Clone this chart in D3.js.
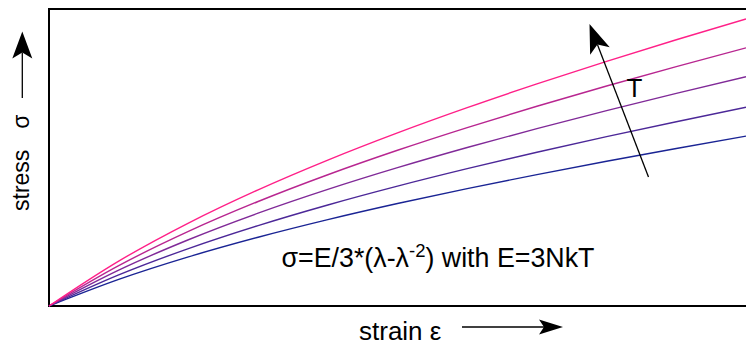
<!DOCTYPE html>
<html>
<head>
<meta charset="utf-8">
<script src="https://cdn.jsdelivr.net/npm/d3@7"></script>
<style>
  html, body { margin: 0; padding: 0; background: #fff; }
  svg { display: block; font-family: "Liberation Sans", Arial, Helvetica, sans-serif; }
</style>
</head>
<body>
<svg id="chart" width="746" height="344"></svg>
<script>
// Strain values (engineering strain ε, λ = 1 + ε)
const strain = [0, 0.1, 0.2, 0.3, 0.4, 0.5, 0.6, 0.7, 0.8, 0.9, 1.0];

// Stress curves for increasing temperature T (lowest to highest)
const stressT1 = [0, 0.2736, 0.5056, 0.7083, 0.8898, 1.0556, 1.2094, 1.3540, 1.4914, 1.6230, 1.7500];
const stressT2 = [0, 0.3201, 0.5916, 0.8287, 1.0411, 1.2351, 1.4150, 1.5842, 1.7449, 1.8989, 2.0475];
const stressT3 = [0, 0.3694, 0.6826, 0.9562, 1.2012, 1.4251, 1.6327, 1.8279, 2.0134, 2.1911, 2.3625];
const stressT4 = [0, 0.4159, 0.7685, 1.0766, 1.3525, 1.6045, 1.8383, 2.0581, 2.2669, 2.4670, 2.6600];
const stressT5 = [0, 0.4624, 0.8545, 1.1970, 1.5038, 1.7840, 2.0439, 2.2883, 2.5205, 2.7429, 2.9575];

const seriesList = [stressT1, stressT2, stressT3, stressT4, stressT5];
const seriesColors = ["#1a2494", "#4c2898", "#802a98", "#b82690", "#ff2088"];

const svg = d3.select("#chart");

const x = d3.scaleLinear().domain([0, 1]).range([49, 746]);
const y = d3.scaleLinear().domain([0, 3.06]).range([306, 9]);

// plot frame (open to the right, extends past the window)
svg.append("rect")
  .attr("x", x(0)).attr("y", y(3.06))
  .attr("width", 760).attr("height", y(0) - y(3.06))
  .attr("fill", "none").attr("stroke", "#000").attr("stroke-width", 2);

// stress–strain curves
const line = d3.line()
  .x((d, i) => x(strain[i]))
  .y(d => y(d))
  .curve(d3.curveMonotoneX);

svg.append("g").selectAll("path")
  .data(seriesList)
  .join("path")
  .attr("d", line)
  .attr("fill", "none")
  .attr("stroke", (d, i) => seriesColors[i])
  .attr("stroke-width", 1.4);

// stealth-style arrow from (x1,y1) to tip (x2,y2)
function arrow(x1, y1, x2, y2, len, half, notch) {
  const dx = x2 - x1, dy = y2 - y1;
  const L = Math.hypot(dx, dy);
  const ux = dx / L, uy = dy / L;
  const px = -uy, py = ux;
  const bx = x2 - ux * len, by = y2 - uy * len;
  const nx = x2 - ux * (len - notch), ny = y2 - uy * (len - notch);
  svg.append("line")
    .attr("x1", x1).attr("y1", y1).attr("x2", nx).attr("y2", ny)
    .attr("stroke", "#000").attr("stroke-width", 1.3);
  svg.append("path")
    .attr("d", `M${x2},${y2}L${bx + px * half},${by + py * half}L${nx},${ny}L${bx - px * half},${by - py * half}Z`)
    .attr("fill", "#000");
}

// temperature arrow
arrow(648.5, 177, 589.5, 24, 29, 10.5, 7);
svg.append("text")
  .attr("x", 634.5).attr("y", 97)
  .attr("text-anchor", "middle")
  .attr("font-size", 26)
  .text("T");

// y-axis label with arrow
svg.append("text")
  .attr("transform", "translate(28.5,211) rotate(-90)")
  .attr("font-size", 23)
  .call(t => {
    t.append("tspan").text("stress");
    t.append("tspan").attr("dx", 21).text("σ");
  });
arrow(22.3, 98, 22.3, 31.5, 27, 10, 6);

// x-axis label with arrow
svg.append("text")
  .attr("x", 359).attr("y", 339.5)
  .attr("font-size", 26)
  .text("strain ε");
arrow(462, 327, 563, 327, 24, 7.5, 5);

// model equation
svg.append("text")
  .attr("x", 281.5).attr("y", 267)
  .attr("font-size", 26.8)
  .call(t => {
    t.append("tspan").text("σ=E/3*(λ-λ");
    t.append("tspan").attr("font-size", 18.5).attr("dy", -10).text("-2");
    t.append("tspan").attr("dy", 10).text(") with E=3NkT");
  });
</script>
</body>
</html>
